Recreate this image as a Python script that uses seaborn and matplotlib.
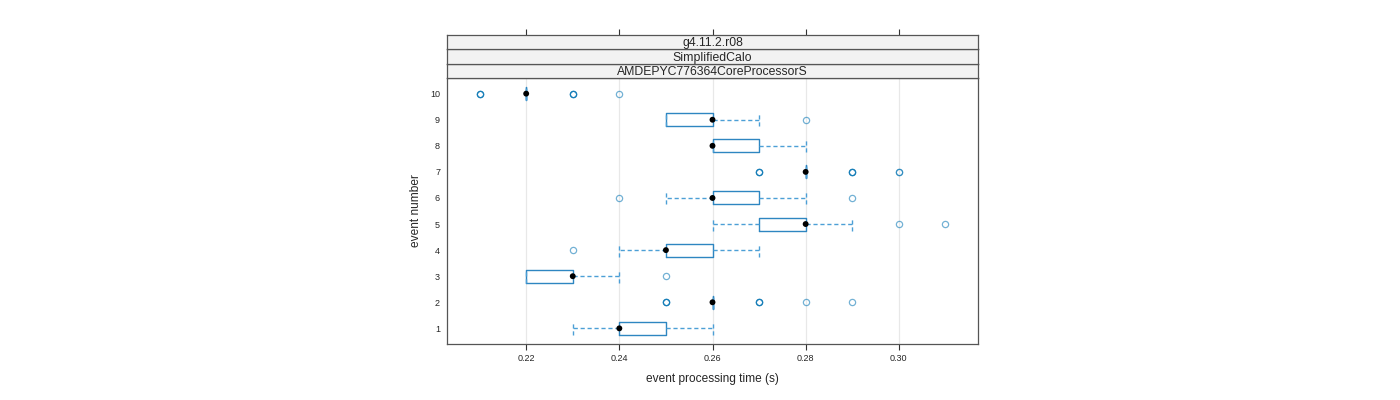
import pandas as pd
import numpy as np
import matplotlib
matplotlib.use("Agg")
import matplotlib.pyplot as plt
import seaborn as sns

# event processing time samples (s) per event
ev1 = [0.23, 0.24, 0.24, 0.24, 0.24, 0.25, 0.25, 0.26]
ev2 = [0.25] * 3 + [0.26] * 14 + [0.27] * 3 + [0.28, 0.29]
ev3 = [0.22, 0.22, 0.22, 0.23, 0.23, 0.23, 0.23, 0.24, 0.25]
ev4 = [0.23, 0.24, 0.25, 0.25, 0.25, 0.25, 0.26, 0.26, 0.26, 0.27]
ev5 = [0.26, 0.27, 0.27, 0.27] + [0.28] * 6 + [0.29, 0.30, 0.31]
ev6 = [0.24, 0.25, 0.26, 0.26, 0.26, 0.26, 0.27, 0.27, 0.27, 0.28, 0.29]
ev7 = [0.27] * 3 + [0.28] * 14 + [0.29] * 3 + [0.30] * 2
ev8 = [0.26] * 6 + [0.27] * 3 + [0.28] * 2
ev9 = [0.25] * 4 + [0.26] * 6 + [0.27] * 2 + [0.28]
ev10 = [0.21] * 3 + [0.22] * 14 + [0.23] * 3 + [0.24]

events = [ev1, ev2, ev3, ev4, ev5, ev6, ev7, ev8, ev9, ev10]
strip_labels = ["g4.11.2.r08", "SimplifiedCalo", "AMDEPYC776364CoreProcessorS"]
x_ticks = [0.22, 0.24, 0.26, 0.28, 0.30]

rows = []
for i, vals in enumerate(events, start=1):
    for v in vals:
        rows.append({"event": i, "time": v})
df = pd.DataFrame(rows)

sns.set_style("white")
plt.rcParams["font.family"] = ["Liberation Sans", "DejaVu Sans"]

box_col = "#2E86C1"
whisk_col = "#4C9FD6"
flier_col = "#0072B2"

fig = plt.figure(figsize=(14, 4), dpi=100)
# main panel: x 447-978 px, y 78-344 px
ax = fig.add_axes([447 / 1400, 1 - 344 / 400, 531 / 1400, 266 / 400])

ax.grid(axis="x", color="#E8E8E8", linewidth=0.9, zorder=0)
ax.set_axisbelow(True)

sns.boxplot(
    data=df, x="time", y="event", orient="h", native_scale=True,
    fill=False, color=box_col, saturation=1, width=0.5, whis=1.5,
    linewidth=1.0, ax=ax, capwidths=0.5,
    boxprops=dict(color=box_col, linewidth=1.0),
    whiskerprops=dict(color=whisk_col, linestyle=(0, (3, 2)), linewidth=1.0),
    capprops=dict(color=whisk_col, linestyle=(0, (3, 2)), linewidth=1.0),
    medianprops=dict(linewidth=0, alpha=0),
    flierprops=dict(marker="o", markersize=4.5, markerfacecolor="none",
                    markeredgecolor=flier_col, markeredgewidth=0.9, alpha=0.55),
)

med = df.groupby("event")["time"].median().reset_index()
sns.scatterplot(data=med, x="time", y="event", color="black", s=18,
                edgecolor="none", zorder=6, ax=ax)

ax.set_xlim(0.203, 0.317)
ax.set_ylim(0.4, 10.6)
ax.set_xticks(x_ticks)
ax.set_xticklabels([f"{t:.2f}" for t in x_ticks])
ax.set_yticks(range(1, 11))
ax.set_yticklabels([str(i) for i in range(1, 11)])
ax.tick_params(axis="x", direction="out", length=4.5, width=0.8, color="#333333",
               labelsize=6.5, pad=3, bottom=True)
ax.tick_params(axis="y", length=0, labelsize=6.5, pad=5)
for s in ax.spines.values():
    s.set_color("#555555")
    s.set_linewidth(0.9)
ax.set_xlabel("event processing time (s)", fontsize=8.6, labelpad=7)
ax.set_ylabel("event number", fontsize=8.6, labelpad=6)

# strips: three stacked headers above the panel (y 35-78 px)
strip_h = 43 / 3
for k, lab in enumerate(reversed(strip_labels)):
    top_px = 78 - (k + 1) * strip_h
    sax = fig.add_axes([447 / 1400, 1 - (top_px + strip_h) / 400,
                        531 / 1400, strip_h / 400])
    sax.set_facecolor("#F2F2F2")
    sax.set_xlim(ax.get_xlim())
    sax.set_yticks([])
    sax.text(0.5, 0.42, lab, ha="center", va="center", fontsize=8.8,
             transform=sax.transAxes)
    for s in sax.spines.values():
        s.set_color("#555555")
        s.set_linewidth(0.9)
    if k == len(strip_labels) - 1:
        sax.set_xticks(x_ticks)
        sax.tick_params(axis="x", top=True, bottom=False, labeltop=False,
                        labelbottom=False, direction="out", length=4.5,
                        width=0.8, color="#333333")
    else:
        sax.set_xticks([])

fig.savefig("out.png", dpi=100)
